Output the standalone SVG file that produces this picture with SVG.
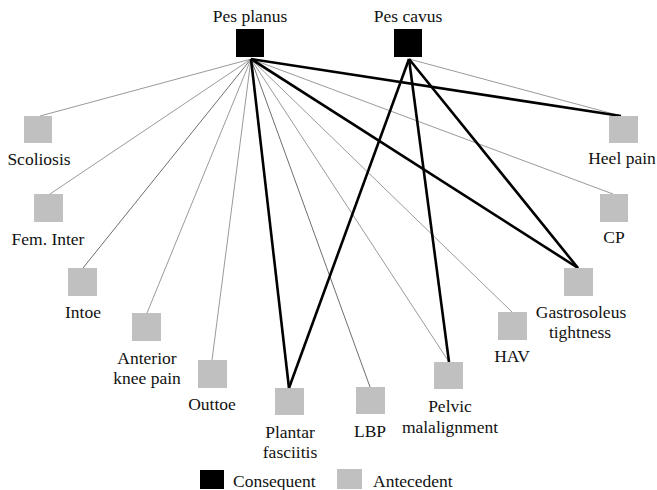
<svg xmlns="http://www.w3.org/2000/svg" width="657" height="490" viewBox="0 0 657 490">
<style>
text{font-family:"Liberation Serif","Times New Roman",serif;font-size:17.5px;fill:#111;text-anchor:middle}
.c{fill:#000}
.a{fill:#c0c0c0}
.thin{stroke:#9a9a9a;stroke-width:1;fill:none}
.mid{stroke:#6e6e6e;stroke-width:1;fill:none}
.thick{stroke:#000;stroke-width:2.6;fill:none}
</style>
<rect width="657" height="490" fill="#fff"/>
<g id="connectors">
<line class="thin" x1="251" y1="59" x2="40" y2="116"/>
<line class="thin" x1="251" y1="59" x2="50" y2="194"/>
<line class="mid" x1="251" y1="59" x2="83" y2="268"/>
<line class="thin" x1="251" y1="59" x2="147" y2="313"/>
<line class="thin" x1="251" y1="59" x2="212" y2="360"/>
<line class="mid" x1="251" y1="59" x2="370" y2="387"/>
<line class="thin" x1="251" y1="59" x2="449" y2="362"/>
<line class="thin" x1="251" y1="59" x2="512" y2="312"/>
<line class="thin" x1="251" y1="59" x2="613" y2="194"/>
<line class="thin" x1="409" y1="59" x2="621" y2="116"/>
<line class="thick" x1="251" y1="59" x2="289" y2="388"/>
<line class="thick" x1="251" y1="59" x2="621" y2="116"/>
<line class="thick" x1="251" y1="59" x2="578" y2="268"/>
<line class="thick" x1="409" y1="59" x2="289" y2="388"/>
<line class="thick" x1="409" y1="59" x2="449" y2="362"/>
<line class="thick" x1="409" y1="59" x2="578" y2="268"/>
</g>
<g id="pes-planus"><rect class="c" x="236" y="29" width="28" height="28"/><text x="250" y="22">Pes planus</text></g>
<g id="pes-cavus"><rect class="c" x="394" y="29" width="28" height="28"/><text x="408" y="22">Pes cavus</text></g>
<g id="scoliosis"><rect class="a" x="24" y="116" width="28" height="27"/><text x="39" y="165">Scoliosis</text></g>
<g id="fem-inter"><rect class="a" x="34" y="194" width="29" height="28"/><text x="48" y="245">Fem. Inter</text></g>
<g id="intoe"><rect class="a" x="68" y="268" width="29" height="28"/><text x="83" y="318">Intoe</text></g>
<g id="anterior-knee-pain"><rect class="a" x="132" y="313" width="29" height="28"/><text x="147" y="364">Anterior</text><text x="147" y="384">knee pain</text></g>
<g id="outtoe"><rect class="a" x="198" y="360" width="29" height="28"/><text x="212" y="410">Outtoe</text></g>
<g id="plantar-fasciitis"><rect class="a" x="275" y="388" width="29" height="27"/><text x="290" y="438">Plantar</text><text x="290" y="458">fasciitis</text></g>
<g id="lbp"><rect class="a" x="356" y="387" width="29" height="27"/><text x="370" y="437">LBP</text></g>
<g id="pelvic-malalignment"><rect class="a" x="434" y="362" width="29" height="27"/><text x="450" y="412">Pelvic</text><text x="450" y="433">malalignment</text></g>
<g id="hav"><rect class="a" x="498" y="312" width="29" height="28"/><text x="512" y="362">HAV</text></g>
<g id="gastrosoleus-tightness"><rect class="a" x="564" y="268" width="29" height="28"/><text x="581" y="318">Gastrosoleus</text><text x="580" y="338">tightness</text></g>
<g id="cp"><rect class="a" x="600" y="194" width="28" height="28"/><text x="614" y="243">CP</text></g>
<g id="heel-pain"><rect class="a" x="609" y="116" width="29" height="27"/><text x="622" y="164">Heel pain</text></g>
<g id="legend">
<rect class="c" x="200" y="470" width="24" height="19"/>
<text x="233" y="487" style="text-anchor:start">Consequent</text>
<rect class="a" x="337" y="469" width="25" height="20"/>
<text x="373" y="487" style="text-anchor:start">Antecedent</text>
</g>
</svg>
